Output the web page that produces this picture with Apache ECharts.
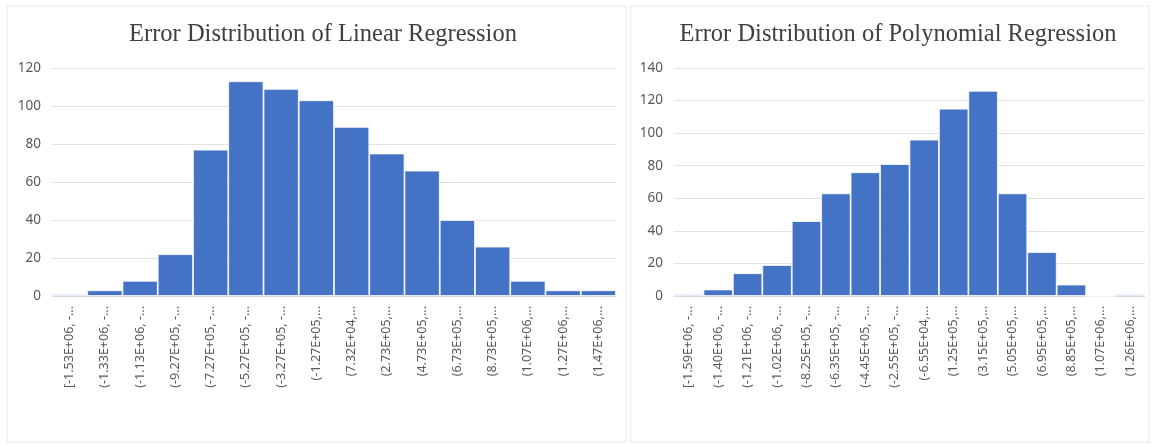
<!DOCTYPE html>
<html><head><meta charset="utf-8">
<script src="https://cdn.jsdelivr.net/npm/echarts@6/dist/echarts.min.js"></script>
<style>html,body{margin:0;padding:0;background:#fff}#c{width:1152px;height:447px}</style>
</head><body><div id="c"></div>
<script>
const linearTitle = 'Error Distribution of Linear Regression';
const polyTitle = 'Error Distribution of Polynomial Regression';
const linearCategories = ['[-1.53E+06, -...','(-1.33E+06, -...','(-1.13E+06, -...','(-9.27E+05, -...','(-7.27E+05, -...','(-5.27E+05, -...','(-3.27E+05, -...','(-1.27E+05,...','(7.32E+04,...','(2.73E+05,...','(4.73E+05,...','(6.73E+05,...','(8.73E+05,...','(1.07E+06,...','(1.27E+06,...','(1.47E+06,...'];
const linearValues = [1, 3, 8, 22, 77, 113, 109, 103, 89, 75, 66, 40, 26, 8, 3, 3];
const polyCategories = ['[-1.59E+06, -...','(-1.40E+06, -...','(-1.21E+06, -...','(-1.02E+06, -...','(-8.25E+05, -...','(-6.35E+05, -...','(-4.45E+05, -...','(-2.55E+05, -...','(-6.55E+04,...','(1.25E+05,...','(3.15E+05,...','(5.05E+05,...','(6.95E+05,...','(8.85E+05,...','(1.07E+06,...','(1.26E+06,...'];
const polyValues = [1, 4, 14, 19, 46, 63, 76, 81, 96, 115, 126, 63, 27, 7, 0, 1];
const linearTicks = {min: 0, max: 120, interval: 20};
const polyTicks = {min: 0, max: 140, interval: 20};

const chart = echarts.init(document.getElementById('c'), null, {renderer: 'canvas'});
const axisLabelX = {interval: 0, rotate: 90, color: '#595959', fontSize: 12.5, fontFamily: 'Noto Sans', margin: 10};
const axisLabelY = {color: '#595959', fontSize: 13.5, fontFamily: 'Noto Sans', margin: 11};
const titleStyle = {color: '#404040', fontSize: 24.5, fontFamily: 'Liberation Serif', fontWeight: 'normal'};
function xAxis(cats, gi) {
  return {type: 'category', gridIndex: gi, data: cats, axisTick: {show: false},
    axisLine: {show: true, lineStyle: {color: '#d9d9d9'}}, axisLabel: axisLabelX};
}
function yAxis(t, gi) {
  return {type: 'value', gridIndex: gi, min: t.min, max: t.max, interval: t.interval,
    axisLine: {show: false}, axisTick: {show: false}, axisLabel: axisLabelY,
    splitLine: {lineStyle: {color: '#e3e3e3'}}};
}
function bars(vals, gi) {
  return {type: 'bar', xAxisIndex: gi, yAxisIndex: gi, data: vals, barCategoryGap: '0%',
    itemStyle: {color: '#4472C4', borderColor: '#ffffff', borderWidth: 0.8}};
}
chart.setOption({
  backgroundColor: '#ffffff',
  animation: false,
  graphic: [
    {type: 'rect', shape: {x: 7, y: 6, width: 619, height: 436}, style: {fill: 'none', stroke: '#e8e8e8', lineWidth: 1}},
    {type: 'rect', shape: {x: 631, y: 6, width: 518, height: 436}, style: {fill: 'none', stroke: '#e8e8e8', lineWidth: 1}}
  ],
  title: [
    {text: linearTitle, left: 318, top: 17, textAlign: 'center', textStyle: titleStyle},
    {text: polyTitle, left: 893, top: 17, textAlign: 'center', textStyle: titleStyle}
  ],
  grid: [
    {left: 52, top: 68, width: 564, height: 228},
    {left: 674, top: 68, width: 471, height: 228}
  ],
  xAxis: [xAxis(linearCategories, 0), xAxis(polyCategories, 1)],
  yAxis: [yAxis(linearTicks, 0), yAxis(polyTicks, 1)],
  series: [bars(linearValues, 0), bars(polyValues, 1)]
});
</script></body></html>
